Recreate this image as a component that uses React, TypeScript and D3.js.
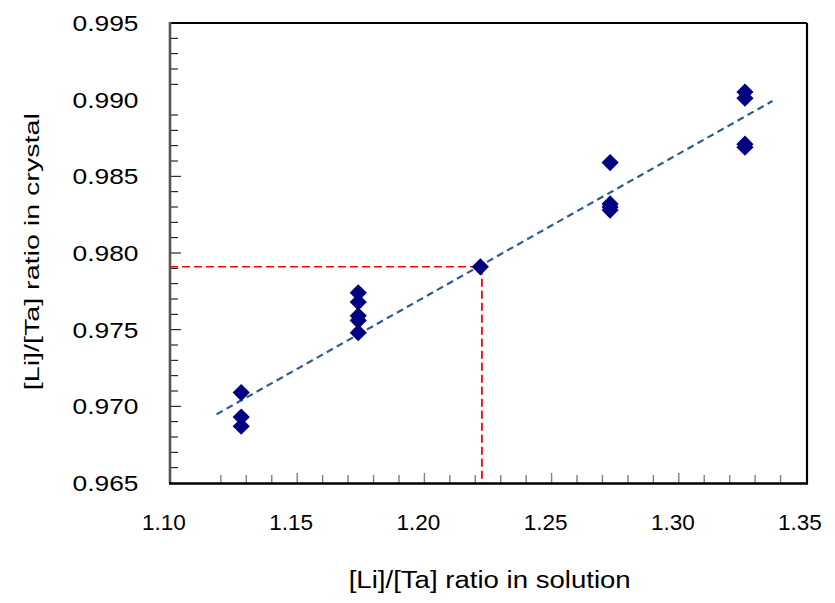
import React from "react";
import * as d3 from "d3";

// ---- data ----
const xTickValues = [1.1, 1.15, 1.2, 1.25, 1.3, 1.35];
const xTickLabels = ["1.10", "1.15", "1.20", "1.25", "1.30", "1.35"];
const yTickValues = [0.965, 0.97, 0.975, 0.98, 0.985, 0.99, 0.995];
const yTickLabels = ["0.965", "0.970", "0.975", "0.980", "0.985", "0.990", "0.995"];

const solutionRatio = [
  1.128, 1.128, 1.128,
  1.174, 1.174, 1.174, 1.174, 1.174,
  1.222,
  1.273, 1.273, 1.273, 1.273,
  1.326, 1.326, 1.326, 1.326,
];
const crystalRatio = [
  0.9709, 0.9693, 0.9687,
  0.9774, 0.9768, 0.9759, 0.9756, 0.9748,
  0.9791,
  0.9859, 0.9832, 0.9830, 0.9828,
  0.9905, 0.9901, 0.9871, 0.9869,
];

const trendSolution = [1.1183, 1.3368];
const trendCrystal = [0.96948, 0.98991];

const markedSolution = 1.2226;
const markedCrystal = 0.9791;

const xTitle = "[Li]/[Ta] ratio in solution";
const yTitle = "[Li]/[Ta] ratio in crystal";

const W = 835;
const H = 603;
const FONT = "'Liberation Sans', Arial, sans-serif";

export default function App() {
  const x = d3.scaleLinear().domain([1.1, 1.35]).range([170, 806]);
  const y = d3.scaleLinear().domain([0.965, 0.995]).range([483, 23]);

  const xMinor = d3.range(112, 135).map((v) => v / 100);
  const yMinor = d3.range(966, 995).map((v) => v / 1000).filter((v) => Math.round(v * 1000) % 5 !== 0);
  const yMajorInner = [0.97, 0.975, 0.98, 0.985];

  const trendLine = d3
    .line<number>()
    .x((_, i) => x(trendSolution[i]))
    .y((d) => y(d))(trendCrystal);

  const diamond = d3.symbol().type(d3.symbolSquare).size(8.6 * 8.6 * 2)();

  const [x0, x1] = x.range();
  const [yb, yt] = y.range();

  return (
    <svg
      width={W}
      height={H}
      style={{ position: "absolute", left: 0, top: 0, background: "#fff" }}
      fontFamily={FONT}
    >
      {/* x minor ticks (gray, inward) */}
      {xMinor.map((v) => {
        const major = Math.round(v * 100) % 5 === 0;
        return (
          <line
            key={"xm" + v}
            x1={x(v)}
            x2={x(v)}
            y1={yb}
            y2={yb - (major ? 10 : 8)}
            stroke="#808080"
            strokeWidth={1.4}
          />
        );
      })}
      {/* y minor ticks (black, inward) */}
      {yMinor.map((v) => (
        <line key={"ym" + v} x1={x0} x2={x0 + 8} y1={y(v)} y2={y(v)} stroke="#000" strokeWidth={1} />
      ))}
      {yMajorInner.map((v) => (
        <line key={"yM" + v} x1={x0} x2={x0 + 11} y1={y(v)} y2={y(v)} stroke="#000" strokeWidth={1} />
      ))}

      {/* red guide lines */}
      <line
        x1={x0}
        x2={x(markedSolution)}
        y1={y(markedCrystal)}
        y2={y(markedCrystal)}
        stroke="#ff0000"
        strokeWidth={1.5}
        strokeDasharray="8,4"
      />
      <line
        x1={x(markedSolution)}
        x2={x(markedSolution)}
        y1={y(markedCrystal)}
        y2={yb}
        stroke="#ff0000"
        strokeWidth={1.8}
        strokeDasharray="8,4"
      />

      {/* trend line */}
      <path d={trendLine || ""} fill="none" stroke="#2f5c91" strokeWidth={2.2} strokeDasharray="7,4.5" />

      {/* points */}
      {solutionRatio.map((sx, i) => (
        <path
          key={"p" + i}
          d={diamond || ""}
          transform={`translate(${x(sx)},${y(crystalRatio[i])}) rotate(45)`}
          fill="#000080"
        />
      ))}

      {/* frame */}
      <line x1={x0} x2={x1 + 1} y1={yt} y2={yt} stroke="#000" strokeWidth={2.2} />
      <line x1={x1 + 1} x2={x1 + 1} y1={yt} y2={yb} stroke="#000" strokeWidth={2.2} />
      <line x1={x0} x2={x0} y1={yt - 1} y2={yb} stroke="#555" strokeWidth={2.6} />
      <line x1={x0 - 1} x2={x1 + 2} y1={yb + 0.5} y2={yb + 0.5} stroke="#000" strokeWidth={2.4} />

      {/* y tick labels */}
      {yTickValues.map((v, i) => (
        <text
          key={"yl" + v}
          x={138.5}
          y={y(v) + 8}
          textAnchor="end"
          fontSize={22.5}
          textLength={66}
          lengthAdjust="spacingAndGlyphs"
          fill="#000"
        >
          {yTickLabels[i]}
        </text>
      ))}
      {/* x tick labels */}
      {xTickValues.map((v, i) => (
        <text key={"xl" + v} x={x(v) - 6} y={530} textAnchor="middle" fontSize={22.5} fill="#000">
          {xTickLabels[i]}
        </text>
      ))}

      {/* axis titles */}
      <text
        x={489.7}
        y={588}
        textAnchor="middle"
        fontSize={23.5}
        textLength={282}
        lengthAdjust="spacingAndGlyphs"
        fill="#000"
      >
        {xTitle}
      </text>
      <text
        transform={`translate(39,251.7) rotate(-90)`}
        textAnchor="middle"
        fontSize={21}
        textLength={277}
        lengthAdjust="spacingAndGlyphs"
        fill="#000"
      >
        {yTitle}
      </text>
    </svg>
  );
}
